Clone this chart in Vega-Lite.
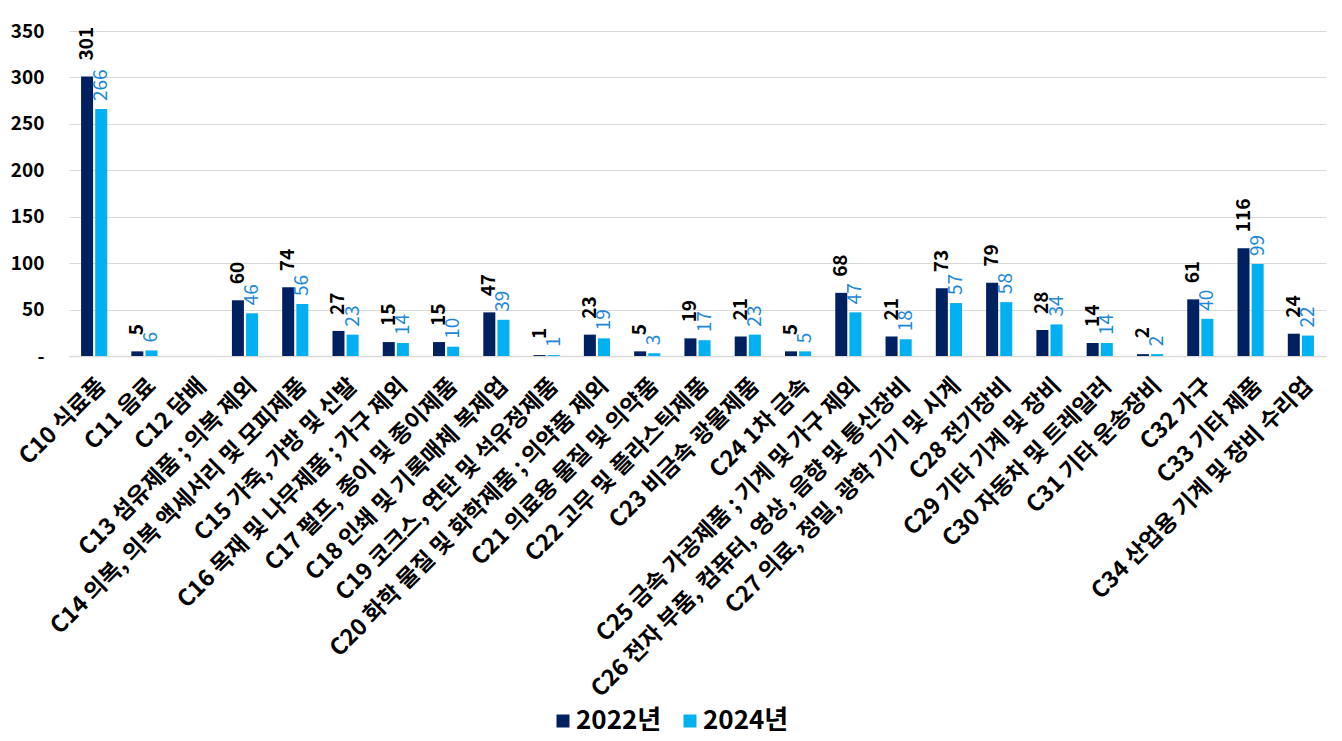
{
  "$schema": "https://vega.github.io/schema/vega-lite/v6.json",
  "width": 1257,
  "height": 325,
  "autosize": {"type": "none"},
  "padding": {"left": 69, "top": 31, "right": 16, "bottom": 385},
  "background": "white",
  "config": {
    "font": "Noto Sans CJK KR",
    "view": {"stroke": null}
  },
  "data": {
    "values": [
      {"cat": "C10 식료품", "year": "2022년", "value": 301},
      {"cat": "C10 식료품", "year": "2024년", "value": 266},
      {"cat": "C11 음료", "year": "2022년", "value": 5},
      {"cat": "C11 음료", "year": "2024년", "value": 6},
      {"cat": "C12 담배", "year": "2022년", "value": null},
      {"cat": "C12 담배", "year": "2024년", "value": null},
      {"cat": "C13 섬유제품 ; 의복 제외", "year": "2022년", "value": 60},
      {"cat": "C13 섬유제품 ; 의복 제외", "year": "2024년", "value": 46},
      {"cat": "C14 의복, 의복 액세서리 및 모피제품", "year": "2022년", "value": 74},
      {"cat": "C14 의복, 의복 액세서리 및 모피제품", "year": "2024년", "value": 56},
      {"cat": "C15 가죽, 가방 및 신발", "year": "2022년", "value": 27},
      {"cat": "C15 가죽, 가방 및 신발", "year": "2024년", "value": 23},
      {"cat": "C16 목재 및 나무제품 ; 가구 제외", "year": "2022년", "value": 15},
      {"cat": "C16 목재 및 나무제품 ; 가구 제외", "year": "2024년", "value": 14},
      {"cat": "C17 펄프, 종이 및 종이제품", "year": "2022년", "value": 15},
      {"cat": "C17 펄프, 종이 및 종이제품", "year": "2024년", "value": 10},
      {"cat": "C18 인쇄 및 기록매체 복제업", "year": "2022년", "value": 47},
      {"cat": "C18 인쇄 및 기록매체 복제업", "year": "2024년", "value": 39},
      {"cat": "C19 코크스, 연탄 및 석유정제품", "year": "2022년", "value": 1},
      {"cat": "C19 코크스, 연탄 및 석유정제품", "year": "2024년", "value": 1},
      {"cat": "C20 화학 물질 및 화학제품 ; 의약품 제외", "year": "2022년", "value": 23},
      {"cat": "C20 화학 물질 및 화학제품 ; 의약품 제외", "year": "2024년", "value": 19},
      {"cat": "C21 의료용 물질 및 의약품", "year": "2022년", "value": 5},
      {"cat": "C21 의료용 물질 및 의약품", "year": "2024년", "value": 3},
      {"cat": "C22 고무 및 플라스틱제품", "year": "2022년", "value": 19},
      {"cat": "C22 고무 및 플라스틱제품", "year": "2024년", "value": 17},
      {"cat": "C23 비금속 광물제품", "year": "2022년", "value": 21},
      {"cat": "C23 비금속 광물제품", "year": "2024년", "value": 23},
      {"cat": "C24 1차 금속", "year": "2022년", "value": 5},
      {"cat": "C24 1차 금속", "year": "2024년", "value": 5},
      {"cat": "C25 금속 가공제품 ; 기계 및 가구 제외", "year": "2022년", "value": 68},
      {"cat": "C25 금속 가공제품 ; 기계 및 가구 제외", "year": "2024년", "value": 47},
      {"cat": "C26 전자 부품, 컴퓨터, 영상, 음향 및 통신장비", "year": "2022년", "value": 21},
      {"cat": "C26 전자 부품, 컴퓨터, 영상, 음향 및 통신장비", "year": "2024년", "value": 18},
      {"cat": "C27 의료, 정밀, 광학 기기 및 시계", "year": "2022년", "value": 73},
      {"cat": "C27 의료, 정밀, 광학 기기 및 시계", "year": "2024년", "value": 57},
      {"cat": "C28 전기장비", "year": "2022년", "value": 79},
      {"cat": "C28 전기장비", "year": "2024년", "value": 58},
      {"cat": "C29 기타 기계 및 장비", "year": "2022년", "value": 28},
      {"cat": "C29 기타 기계 및 장비", "year": "2024년", "value": 34},
      {"cat": "C30 자동차 및 트레일러", "year": "2022년", "value": 14},
      {"cat": "C30 자동차 및 트레일러", "year": "2024년", "value": 14},
      {"cat": "C31 기타 운송장비", "year": "2022년", "value": 2},
      {"cat": "C31 기타 운송장비", "year": "2024년", "value": 2},
      {"cat": "C32 가구", "year": "2022년", "value": 61},
      {"cat": "C32 가구", "year": "2024년", "value": 40},
      {"cat": "C33 기타 제품", "year": "2022년", "value": 116},
      {"cat": "C33 기타 제품", "year": "2024년", "value": 99},
      {"cat": "C34 산업용 기계 및 장비 수리업", "year": "2022년", "value": 24},
      {"cat": "C34 산업용 기계 및 장비 수리업", "year": "2024년", "value": 22}
    ]
  },
  "encoding": {
    "x": {
      "field": "cat",
      "type": "nominal",
      "sort": null,
      "scale": {
        "domain": ["C10 식료품", "C11 음료", "C12 담배", "C13 섬유제품 ; 의복 제외", "C14 의복, 의복 액세서리 및 모피제품", "C15 가죽, 가방 및 신발", "C16 목재 및 나무제품 ; 가구 제외", "C17 펄프, 종이 및 종이제품", "C18 인쇄 및 기록매체 복제업", "C19 코크스, 연탄 및 석유정제품", "C20 화학 물질 및 화학제품 ; 의약품 제외", "C21 의료용 물질 및 의약품", "C22 고무 및 플라스틱제품", "C23 비금속 광물제품", "C24 1차 금속", "C25 금속 가공제품 ; 기계 및 가구 제외", "C26 전자 부품, 컴퓨터, 영상, 음향 및 통신장비", "C27 의료, 정밀, 광학 기기 및 시계", "C28 전기장비", "C29 기타 기계 및 장비", "C30 자동차 및 트레일러", "C31 기타 운송장비", "C32 가구", "C33 기타 제품", "C34 산업용 기계 및 장비 수리업"],
        "paddingInner": 0.48,
        "paddingOuter": 0.24
      },
      "axis": {
        "title": null,
        "labelAngle": -45,
        "labelAlign": "right",
        "labelBaseline": "top",
        "labelFontSize": 23,
        "labelFontWeight": "bold",
        "labelColor": "#000000",
        "labelPadding": 18,
        "labelLimit": 700,
        "ticks": false,
        "tickSize": 0,
        "domainColor": "#d9d9d9",
        "domainWidth": 1.5,
        "grid": false
      }
    },
    "xOffset": {
      "field": "year",
      "type": "nominal",
      "scale": {"domain": ["2022년", "2024년"], "paddingInner": 0.15, "paddingOuter": 0}
    },
    "y": {
      "field": "value",
      "type": "quantitative",
      "scale": {"domain": [0, 350], "nice": false},
      "axis": {
        "title": null,
        "values": [0, 50, 100, 150, 200, 250, 300, 350],
        "labelExpr": "datum.value == 0 ? '-' : datum.label",
        "labelFontSize": 19,
        "labelFontWeight": "bold",
        "labelColor": "#000000",
        "labelPadding": 25,
        "ticks": false,
        "tickSize": 0,
        "domain": false,
        "grid": true,
        "gridColor": "#d9d9d9",
        "gridWidth": 1
      }
    }
  },
  "layer": [
    {
      "mark": {"type": "bar"},
      "encoding": {
        "color": {
          "field": "year",
          "type": "nominal",
          "scale": {"domain": ["2022년", "2024년"], "range": ["#002060", "#00b0f0"]},
          "legend": {
            "title": null,
            "orient": "none",
            "direction": "horizontal",
            "legendX": 481,
            "legendY": 677,
            "symbolType": "square",
            "symbolSize": 169,
            "symbolStrokeWidth": 0,
            "labelFontSize": 26,
            "labelFontWeight": "bold",
            "labelColor": "#000000",
            "labelOffset": 0,
            "columnPadding": 15
          }
        }
      }
    },
    {
      "transform": [{"filter": "datum.year == '2022년'"}],
      "mark": {"type": "text", "align": "left", "baseline": "middle", "dx": 16, "fontSize": 19, "fontWeight": "bold", "color": "#000000"},
      "encoding": {
        "text": {"field": "value", "type": "quantitative"},
        "angle": {"value": 270}
      }
    },
    {
      "transform": [{"filter": "datum.year == '2024년'"}],
      "mark": {"type": "text", "align": "left", "baseline": "middle", "dx": 8, "fontSize": 19, "fontWeight": "normal", "color": "#1e88d8"},
      "encoding": {
        "text": {"field": "value", "type": "quantitative"},
        "angle": {"value": 270}
      }
    }
  ]
}
